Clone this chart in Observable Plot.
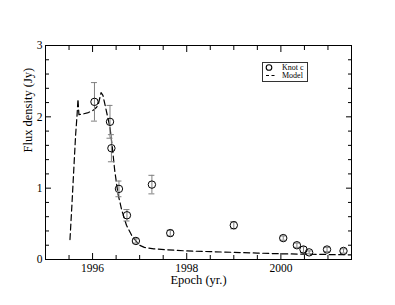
<!DOCTYPE html>
<html>
<head>
<meta charset="utf-8">
<script src="https://cdn.jsdelivr.net/npm/d3@7"></script>
<script src="https://cdn.jsdelivr.net/npm/@observablehq/plot@0.6"></script>
<style>
  html, body { margin: 0; padding: 0; background: #fff; }
  #wrap { position: relative; width: 395px; height: 305px; }
</style>
</head>
<body>
<div id="wrap"></div>
<script>
// Observed knot c flux densities
const epochs = [1996.04, 1996.37, 1996.40, 1996.56, 1996.73, 1996.92, 1997.26, 1997.65, 1999.00, 2000.05, 2000.34, 2000.48, 2000.60, 2000.98, 2001.33];
const flux   = [2.21, 1.93, 1.56, 0.99, 0.62, 0.26, 1.05, 0.37, 0.48, 0.30, 0.20, 0.14, 0.10, 0.14, 0.12];
const fluxErr = [0.27, 0.23, 0.19, 0.11, 0.08, 0.03, 0.13, 0.04, 0.05, 0.03, 0.03, 0.04, 0.02, 0.03, 0.03];

// Model curve
const modelEpoch = [1995.52, 1995.56, 1995.60, 1995.64, 1995.67, 1995.69, 1995.71, 1995.80, 1995.91, 1996.01, 1996.08, 1996.12, 1996.18, 1996.22, 1996.26, 1996.32, 1996.37, 1996.42, 1996.47, 1996.54, 1996.62, 1996.72, 1996.83, 1996.92, 1997.00, 1997.10, 1997.30, 1997.60, 1998.00, 1998.50, 1999.00, 1999.50, 2000.00, 2000.50, 2001.00, 2001.50];
const modelFlux  = [0.28, 0.75, 1.25, 1.75, 2.02, 2.25, 2.03, 2.04, 2.06, 2.09, 2.13, 2.17, 2.34, 2.30, 2.18, 2.00, 1.85, 1.57, 1.25, 0.92, 0.69, 0.48, 0.34, 0.26, 0.20, 0.17, 0.15, 0.135, 0.12, 0.11, 0.10, 0.09, 0.08, 0.075, 0.07, 0.065];

// Ticks
const xMajor = [1996, 1998, 2000];
const xMinor = [1995.5, 1996.5, 1997, 1997.5, 1998.5, 1999, 1999.5, 2000.5, 2001];
const yMajor = [0, 1, 2, 3];
const yMinor = [0.2, 0.4, 0.6, 0.8, 1.2, 1.4, 1.6, 1.8, 2.2, 2.4, 2.6, 2.8];

// Legend entries
const legendLabels = ["Knot c", "Model"];

const points = epochs.map((e, i) => ({epoch: e, flux: flux[i], lo: flux[i] - fluxErr[i], hi: flux[i] + fluxErr[i]}));
const model = modelEpoch.map((e, i) => ({epoch: e, flux: modelFlux[i]}));
const blank = () => "";

const chart = Plot.plot({
  width: 395,
  height: 305,
  marginLeft: 45,
  marginRight: 44,
  marginTop: 45,
  marginBottom: 46,
  style: {fontFamily: "Liberation Serif", fontSize: "11.5px", color: "#000", background: "#fff", overflow: "visible"},
  x: {domain: [1995, 2001.5]},
  y: {domain: [0, 3]},
  marks: [
    Plot.frame({stroke: "#000", strokeWidth: 1}),
    Plot.axisX({ticks: xMajor, tickSize: -6, tickPadding: 10, tickFormat: d => String(d), label: null}),
    Plot.axisX({ticks: xMinor, tickSize: -4, tickFormat: blank, label: null}),
    Plot.axisX({anchor: "top", ticks: xMajor, tickSize: -6, tickFormat: blank, label: null}),
    Plot.axisX({anchor: "top", ticks: xMinor, tickSize: -4, tickFormat: blank, label: null}),
    Plot.axisY({ticks: yMajor, tickSize: -6, tickPadding: 9, tickFormat: d => String(d), label: null}),
    Plot.axisY({ticks: yMinor, tickSize: -4, tickFormat: blank, label: null}),
    Plot.axisY({anchor: "right", ticks: yMajor, tickSize: -6, tickFormat: blank, label: null}),
    Plot.axisY({anchor: "right", ticks: yMinor, tickSize: -4, tickFormat: blank, label: null}),
    Plot.text(["Epoch (yr.)"], {frameAnchor: "bottom", dy: 20, fontSize: 12.5, lineAnchor: "middle"}),
    Plot.text(["Flux density (Jy)"], {frameAnchor: "left", dx: -18, rotate: -90, fontSize: 12.5, lineAnchor: "middle"}),
    Plot.line(model, {x: "epoch", y: "flux", stroke: "#000", strokeWidth: 1.2, strokeDasharray: "6,3.5"}),
    Plot.ruleX(points, {x: "epoch", y1: "lo", y2: "hi", stroke: "#808080", strokeWidth: 1}),
    Plot.ruleY(points, {y: "lo", x1: "epoch", x2: "epoch", insetLeft: -3, insetRight: -3, stroke: "#808080", strokeWidth: 1}),
    Plot.ruleY(points, {y: "hi", x1: "epoch", x2: "epoch", insetLeft: -3, insetRight: -3, stroke: "#808080", strokeWidth: 1}),
    Plot.dot(points, {x: "epoch", y: "flux", r: 3.7, stroke: "#000", strokeWidth: 1, fill: "none"})
  ]
});

document.getElementById("wrap").appendChild(chart);

// Legend box drawn inside the chart's SVG
const g = d3.select(chart).append("g")
  .attr("transform", "translate(262,62)")
  .attr("font-family", "Liberation Serif")
  .attr("font-size", 8)
  .attr("text-anchor", "start")
  .attr("fill", "#000");
g.append("rect").attr("x", 0.5).attr("y", 0.5).attr("width", 45).attr("height", 19)
  .attr("fill", "#fff").attr("stroke", "#333").attr("stroke-width", 1);
g.append("circle").attr("cx", 7).attr("cy", 5.5).attr("r", 2.8)
  .attr("fill", "none").attr("stroke", "#000").attr("stroke-width", 1.1);
g.append("line").attr("x1", 4).attr("x2", 13.5).attr("y1", 13.5).attr("y2", 13.5)
  .attr("stroke", "#000").attr("stroke-width", 1.1).attr("stroke-dasharray", "3,2.5");
g.selectAll("text.lbl").data(legendLabels).join("text")
  .attr("text-anchor", "start").attr("fill", "#000")
  .attr("x", 20).attr("y", (d, i) => 8 + i * 8).text(d => d);
</script>
</body>
</html>
